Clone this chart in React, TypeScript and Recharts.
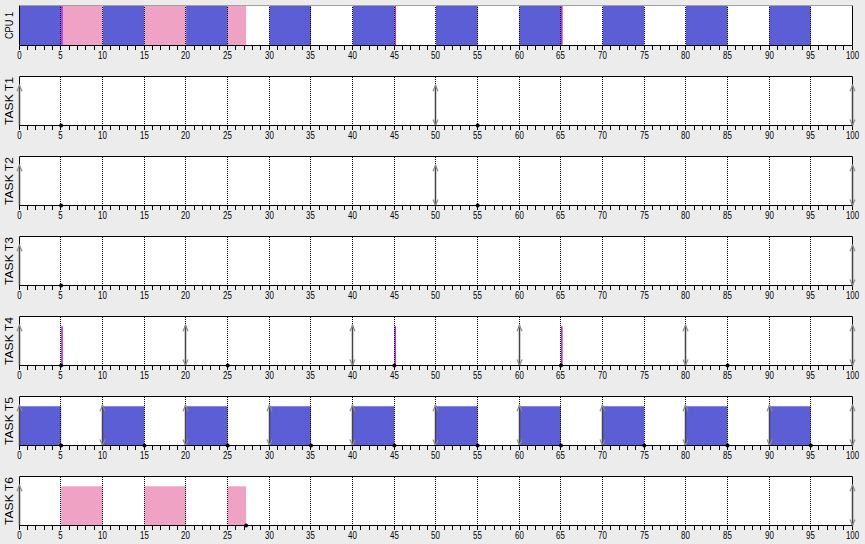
import { ComposedChart, XAxis, YAxis, ReferenceArea, ReferenceLine, ReferenceDot } from "recharts";

// time axis
const majorTicks = [0, 5, 10, 15, 20, 25, 30, 35, 40, 45, 50, 55, 60, 65, 70, 75, 80, 85, 90, 95, 100];
const gridAt = [5, 10, 15, 20, 25, 30, 35, 40, 45, 50, 55, 60, 65, 70, 75, 80, 85, 90, 95];

// CPU 1 schedule (start, end)
const cpuBlue = [[0, 5], [10, 15], [20, 25], [30, 35], [40, 45], [50, 55], [60, 65], [70, 75], [80, 85], [90, 95]];
const cpuPink = [[5, 10], [15, 20], [25, 27.2]];
const cpuMagenta = [[5, 5.2], [45, 45.2], [65, 65.2]];

// tasks: releases (up arrows), deadlines (down arrows), completion marks, runs
const t1Releases = [0, 50, 100];
const t1Deadlines = [50, 100];
const t1Marks = [5, 55];

const t2Releases = [0, 50, 100];
const t2Deadlines = [50, 100];
const t2Marks = [5, 55];

const t3Releases = [0, 100];
const t3Deadlines = [100];
const t3Marks = [5];

const t4Releases = [0, 20, 40, 60, 80, 100];
const t4Deadlines = [20, 40, 60, 80, 100];
const t4Marks = [5, 25, 45, 65, 85];
const t4Runs = [[5, 5.2], [45, 45.2], [65, 65.2]];

const t5Releases = [0, 10, 20, 30, 40, 50, 60, 70, 80, 90, 100];
const t5Deadlines = [10, 20, 30, 40, 50, 60, 70, 80, 90, 100];
const t5Marks = [5, 15, 25, 35, 45, 55, 65, 75, 85, 95];
const t5Runs = [[0, 5], [10, 15], [20, 25], [30, 35], [40, 45], [50, 55], [60, 65], [70, 75], [80, 85], [90, 95]];

const t6Releases = [0, 100];
const t6Deadlines = [100];
const t6Marks = [27.2];
const t6Runs = [[5, 10], [15, 20], [25, 27.2]];

const BLUE = "#5C5ED5";
const PINK = "#F0A2C4";
const MAGENTA = "#B030E0";
const BG = "#ECECEC";
const RUN_TOP = 0.8;
const FONT = "Liberation Sans, Arial, sans-serif";

const allTicks = majorTicks.flatMap((t) => (t === 100 ? [t] : [t, t + 1, t + 2, t + 3, t + 4]));

// snap a scaled x to the pixel grid so 1px lines stay crisp
const px = (x: number) => Math.floor(x - 0.2) + 0.5;

const TickLabel = (p: any) => {
  const v = p.payload?.value;
  if (!majorTicks.includes(v)) return <g />;
  const s = String(v);
  return (
    <text x={px(p.x)} y={p.y + 7} textAnchor="middle" fontSize={11.5} fill="#000" fontFamily={FONT}
      textLength={s.length * 4.4} lengthAdjust="spacingAndGlyphs">
      {s}
    </text>
  );
};

const nameLabel = (value: string, len: number) => (p: any) => {
  const vb = p.viewBox ?? {};
  const cy = (vb.y ?? 0) + (vb.height ?? 0) / 2;
  const x = 13;
  return (
    <text x={x} y={cy} transform={`rotate(-90 ${x} ${cy})`} textAnchor="middle" fontSize={10.5} fill="#000"
      fontFamily={FONT} textLength={len} lengthAdjust="spacingAndGlyphs">
      {value}
    </text>
  );
};

const dottedShape = (p: any) => {
  const x = px(p.x1);
  const yb = Math.round(Math.max(p.y1, p.y2));
  const yt = Math.round(Math.min(p.y1, p.y2));
  return <line x1={x} y1={yb} x2={x} y2={yt} stroke="#000" strokeWidth={1} strokeDasharray="1 1" />;
};

const tickShape = (p: any) => {
  const x = px(p.x1);
  const y = Math.round(p.y1);
  return <line x1={x} y1={y} x2={x} y2={y + 4} stroke="#000" strokeWidth={1} />;
};

const arrowShape = (up: boolean, down: boolean) => (p: any) => {
  const x = px(p.x1);
  const yb = Math.max(p.y1, p.y2);
  const yt = Math.min(p.y1, p.y2);
  return (
    <g>
      <line x1={x} y1={yb} x2={x} y2={yt} stroke="#454545" strokeWidth={1.5} />
      {up && <polyline points={`${x - 2.5},${yt + 6} ${x},${yt} ${x + 2.5},${yt + 6}`} fill="none" stroke="#8c8c8c" strokeWidth={1.2} />}
      {down && <polyline points={`${x - 2.5},${yb - 6} ${x},${yb} ${x + 2.5},${yb - 6}`} fill="none" stroke="#8c8c8c" strokeWidth={1.2} />}
    </g>
  );
};

function axes() {
  return [
    <XAxis key="x" type="number" dataKey="x" domain={[0, 100]} ticks={allTicks} interval={0} tickSize={4} tickMargin={2}
      tick={TickLabel} axisLine={{ stroke: "#000" }} tickLine={false} height={20} allowDataOverflow />,
    <YAxis key="y" type="number" domain={[0, 1]} hide allowDataOverflow />,
    ...allTicks.map((t) => (
      <ReferenceLine key={"tk" + t} segment={[{ x: t, y: 0 }, { x: t, y: 0 }]} ifOverflow="visible" shape={tickShape} />
    )),
  ];
}

function grid() {
  return gridAt.map((g) => (
    <ReferenceLine key={"g" + g} segment={[{ x: g, y: 0 }, { x: g, y: 1 }]} shape={dottedShape} />
  ));
}

function arrows(releases: number[], deadlines: number[]) {
  const points = Array.from(new Set([...releases, ...deadlines])).sort((a, b) => a - b);
  return points.map((t) => (
    <ReferenceLine key={"a" + t} segment={[{ x: t, y: 0 }, { x: t, y: RUN_TOP + 0.02 }]}
      shape={arrowShape(releases.includes(t), deadlines.includes(t))} />
  ));
}

function marks(list: number[]) {
  return list.map((t) => <ReferenceDot key={"m" + t} x={t} y={0} r={2} fill="#000" stroke="none" />);
}

type TaskProps = {
  name: string;
  top: number;
  releases: number[];
  deadlines: number[];
  marks: number[];
  runs?: number[][];
  runColor?: string;
};

function TaskPanel({ name, top, releases, deadlines, marks: done, runs = [], runColor = BLUE }: TaskProps) {
  const thin = runColor === MAGENTA;
  return (
    <div style={{ position: "absolute", left: 0, top: top - 5 }}>
      <ComposedChart width={865} height={75} data={[{ x: 0 }, { x: 100 }]}
        margin={{ top: 5.5, right: 12.5, bottom: 0.5, left: 19.5 }}>
        {axes()}
        <ReferenceArea x1={0} x2={100} y1={0} y2={1} fill="#fff" fillOpacity={1} stroke="none" label={nameLabel(name, 48)} />
        {!thin && runs.map(([a, b]) => (
          <ReferenceArea key={"r" + a} x1={a} x2={b} y1={0} y2={RUN_TOP} fill={runColor} fillOpacity={1} stroke="none" />
        ))}
        {grid()}
        {thin && runs.map(([a, b]) => (
          <ReferenceArea key={"r" + a} x1={a} x2={b} y1={0} y2={RUN_TOP} fill={runColor} fillOpacity={1} stroke="none" />
        ))}
        <ReferenceArea x1={0} x2={100} y1={0} y2={1} fill="none" stroke="#000" strokeWidth={1} />
        {arrows(releases, deadlines)}
        {marks(done)}
      </ComposedChart>
    </div>
  );
}

function CpuPanel() {
  return (
    <div style={{ position: "absolute", left: 0, top: 0 }}>
      <ComposedChart width={865} height={66} data={[{ x: 0 }, { x: 100 }]}
        margin={{ top: 5.5, right: 12.5, bottom: 0.5, left: 19.5 }}>
        {axes()}
        <ReferenceArea x1={0} x2={100} y1={0} y2={1} fill="#fff" fillOpacity={1} stroke="none" label={nameLabel("CPU 1", 27)} />
        {cpuBlue.map(([a, b]) => (
          <ReferenceArea key={"b" + a} x1={a} x2={b} y1={0} y2={1} fill={BLUE} fillOpacity={1} stroke="none" />
        ))}
        {cpuPink.map(([a, b]) => (
          <ReferenceArea key={"p" + a} x1={a} x2={b} y1={0} y2={1} fill={PINK} fillOpacity={1} stroke="none" />
        ))}
        {grid()}
        {cpuMagenta.map(([a, b]) => (
          <ReferenceArea key={"mg" + a} x1={a} x2={b} y1={0} y2={1} fill={MAGENTA} fillOpacity={1} stroke="none" />
        ))}
        <ReferenceLine x={0} stroke="#000" />
        <ReferenceLine x={100} stroke="#000" />
        <ReferenceLine y={1} stroke="#a0a0a0" />
      </ComposedChart>
    </div>
  );
}

export default function App() {
  return (
    <div style={{ position: "fixed", left: 0, top: 0, width: 865, height: 544, background: BG, overflow: "hidden" }}>
      <CpuPanel />
      <TaskPanel name="TASK T1" top={76} releases={t1Releases} deadlines={t1Deadlines} marks={t1Marks} />
      <TaskPanel name="TASK T2" top={156} releases={t2Releases} deadlines={t2Deadlines} marks={t2Marks} />
      <TaskPanel name="TASK T3" top={236} releases={t3Releases} deadlines={t3Deadlines} marks={t3Marks} />
      <TaskPanel name="TASK T4" top={316} releases={t4Releases} deadlines={t4Deadlines} marks={t4Marks} runs={t4Runs} runColor={MAGENTA} />
      <TaskPanel name="TASK T5" top={396} releases={t5Releases} deadlines={t5Deadlines} marks={t5Marks} runs={t5Runs} runColor={BLUE} />
      <TaskPanel name="TASK T6" top={476} releases={t6Releases} deadlines={t6Deadlines} marks={t6Marks} runs={t6Runs} runColor={PINK} />
    </div>
  );
}
